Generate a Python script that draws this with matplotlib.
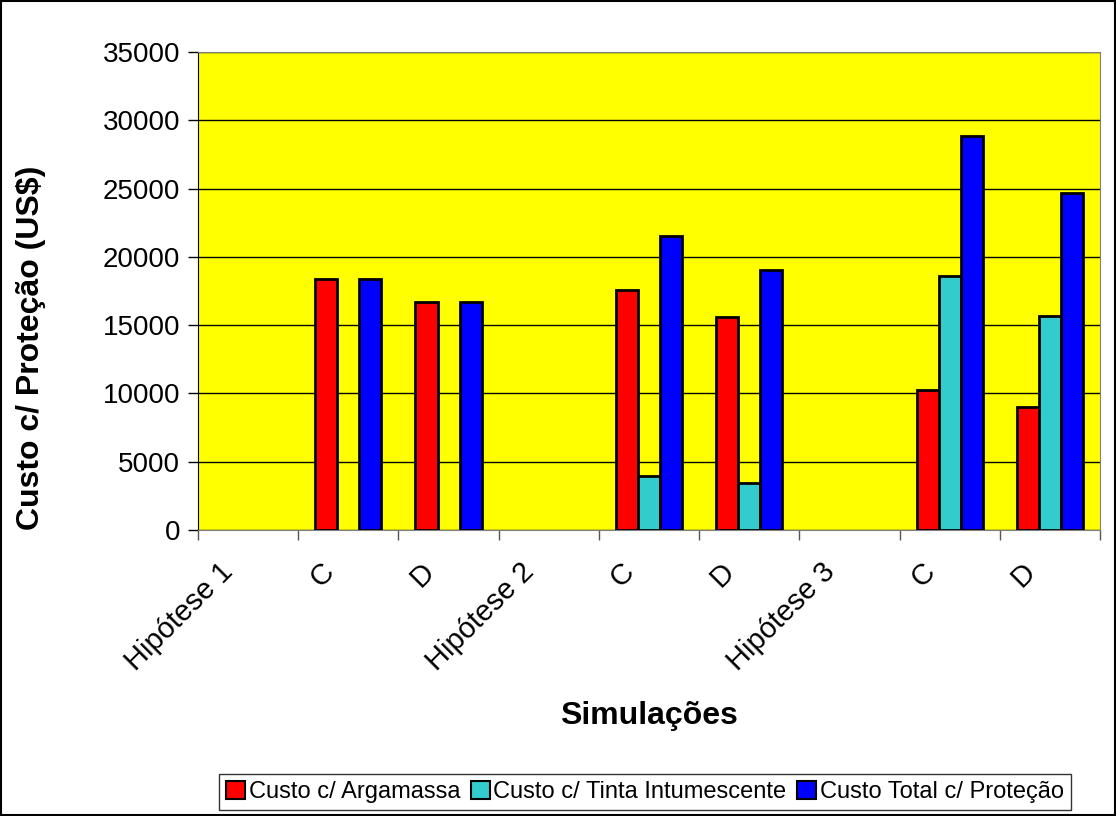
import numpy as np
import matplotlib.pyplot as plt
from matplotlib.patches import Rectangle
from matplotlib.transforms import ScaledTranslation

plt.rcParams['font.family'] = ['Liberation Sans', 'DejaVu Sans']

categories = ["Hipótese 1", "C", "D", "Hipótese 2", "C", "D", "Hipótese 3", "C", "D"]
argamassa = [0, 18400, 16700, 0, 17600, 15620, 0, 10250, 8980]
tinta = [0, 0, 0, 0, 3950, 3420, 0, 18600, 15670]
total = [0, 18400, 16700, 0, 21550, 19040, 0, 28850, 24650]
series_names = ["Custo c/ Argamassa", "Custo c/ Tinta Intumescente", "Custo Total c/ Proteção"]
colors = ["#ff0000", "#33cccc", "#0000ff"]

fig = plt.figure(figsize=(11.16, 8.16), dpi=100)
ax = fig.add_axes([198/1116, 1 - 530/816, 902/1116, 478/816])
ax.set_facecolor("#ffff00")

x = np.arange(len(categories))
w = 0.22
for i, vals in enumerate([argamassa, tinta, total]):
    bars = ax.bar(x + (i - 1) * w, vals, w, color=colors[i], edgecolor="black",
                  linewidth=2, label=series_names[i], zorder=3)
    # empty bars: no outline at the baseline
    for b, v in zip(bars, vals):
        if v == 0:
            b.set_linewidth(0)

ax.set_xlim(-0.5, len(categories) - 0.5)
ax.set_ylim(0, 35000)
ax.set_yticks(np.arange(0, 35001, 5000))
ax.yaxis.grid(True, color="black", linewidth=1, zorder=0)
ax.set_axisbelow(True)

# ticks between categories, labels centred (Excel style)
ax.set_xticks(np.arange(-0.5, len(categories), 1))
ax.set_xticklabels([])
ax.set_xticks(x, minor=True)
ax.set_xticklabels(categories, minor=True, rotation=45, ha="right",
                   rotation_mode="anchor", fontsize=21)
ax.tick_params(axis="x", which="minor", length=0, pad=24)
ax.tick_params(axis="x", which="major", length=7, width=1, color="#555555")
ax.tick_params(axis="y", labelsize=20, length=7, width=1, pad=6)

off = ScaledTranslation(-0.29, 0.06, fig.dpi_scale_trans)
for lab in ax.get_xticklabels(minor=True):
    lab.set_transform(lab.get_transform() + off)

ax.spines["top"].set_color("#808080")
ax.spines["right"].set_color("#808080")
ax.spines["left"].set_color("black")
ax.spines["bottom"].set_color("#808080")

ax.set_ylabel("Custo c/ Proteção (US$)", fontsize=23, fontweight="bold")
ax.yaxis.set_label_coords((46 - 198) / 902, (530 - 348) / 478)
ax.set_xlabel("Simulações", fontsize=23, fontweight="bold")
ax.xaxis.set_label_coords(0.5, (530 - 701) / 478)

leg = fig.legend(loc="lower center", bbox_to_anchor=(645/1116, 0.007), ncol=3, fontsize=17,
                 frameon=True, fancybox=False, edgecolor="black", handlelength=0.8,
                 handleheight=0.8, handletextpad=0.15, columnspacing=0.45,
                 borderpad=0.3, borderaxespad=0)
leg.get_frame().set_linewidth(1)
for h in leg.legend_handles:
    h.set_edgecolor("black")
    h.set_linewidth(1.5)

fig.patches.append(Rectangle((0.001, 0.001), 0.998, 0.998, transform=fig.transFigure,
                             fill=False, edgecolor="black", linewidth=1.5))

fig.savefig("out.png", dpi=100)
